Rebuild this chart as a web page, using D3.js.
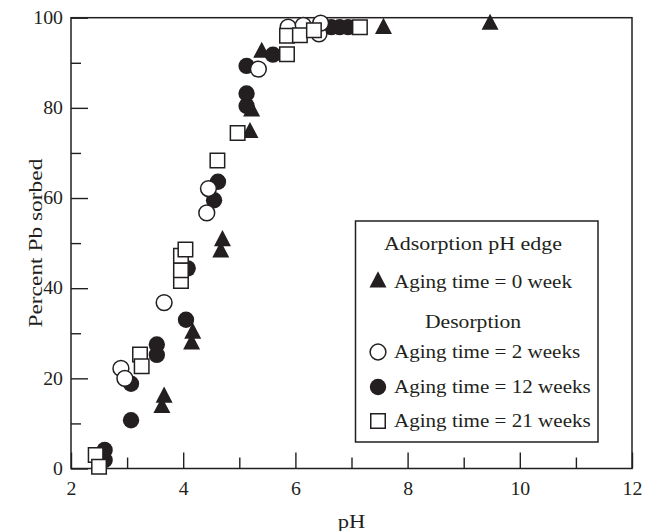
<!DOCTYPE html>
<html>
<head>
<meta charset="utf-8">
<script src="https://cdn.jsdelivr.net/npm/d3@7"></script>
<style>
  html, body { margin: 0; padding: 0; background: #fff; }
  svg { display: block; }
  text { font-family: "Liberation Serif", "DejaVu Serif", serif; fill: #231f20; }
</style>
</head>
<body>
<svg id="chart" width="646" height="531"></svg>
<script>
// Axis ticks
const xMajorTicks = [2, 4, 6, 8, 10, 12];
const xMinorTicks = [3, 5, 7, 9, 11];
const yMajorTicks = [0, 20, 40, 60, 80, 100];
const yMinorTicks = [10, 30, 50, 70, 90];

// Series: [pH, percent Pb sorbed]
const adsorption0wk = [
  [3.62, 13.5], [3.66, 15.8], [4.15, 27.6], [4.17, 30.0],
  [4.67, 48.0], [4.70, 50.5], [5.19, 74.5], [5.22, 79.3],
  [5.40, 92.3], [7.57, 97.6], [9.47, 98.5]
];
const desorption2wk = [
  [2.89, 22.2], [2.96, 20.0], [3.66, 36.8], [4.42, 56.7],
  [4.45, 62.1], [5.34, 88.6], [5.87, 97.9], [6.14, 98.3],
  [6.42, 96.4], [6.45, 98.8]
];
const desorption12wk = [
  [2.60, 1.9], [2.60, 4.1], [3.07, 10.7], [3.07, 18.8],
  [3.53, 25.2], [3.53, 27.5], [4.05, 33.0], [4.08, 44.4],
  [4.55, 59.5], [4.62, 63.6], [5.13, 80.4], [5.13, 83.2],
  [5.13, 89.3], [5.60, 91.8], [6.64, 97.9], [6.79, 97.9],
  [6.94, 97.9]
];
const desorption21wk = [
  [2.44, 3.0], [2.50, 0.4], [3.23, 25.3], [3.26, 22.7],
  [3.96, 41.6], [3.96, 44.0], [3.96, 47.2], [4.04, 48.6],
  [4.61, 68.3], [4.97, 74.4], [5.85, 91.9], [5.85, 96.0],
  [6.08, 96.1], [6.33, 97.2], [7.15, 97.9]
];

const legendTitleAds = "Adsorption pH edge";
const legendTitleDes = "Desorption";
const legendLabels = [
  "Aging time = 0 week",
  "Aging time = 2 weeks",
  "Aging time = 12 weeks",
  "Aging time = 21 weeks"
];

const ink = "#231f20";
const fontSize = "18px";
const svg = d3.select("#chart");

const x = d3.scaleLinear().domain([2, 12]).range([71, 632]);
const y = d3.scaleLinear().domain([0, 100]).range([468.5, 17.7]);

// Widen the serif face a little so it sets like a book typeface
function widen(sel, k) {
  sel.each(function () {
    const len = this.getComputedTextLength();
    if (len > 0) {
      d3.select(this)
        .attr("textLength", len * k)
        .attr("lengthAdjust", "spacingAndGlyphs");
    }
  });
}

// Triangle marker: slightly taller than equilateral, centred on its centroid
const tallTriangle = {
  draw(ctx, size) {
    const w = Math.sqrt(size) * 1.05;
    const h = w * 0.95;
    ctx.moveTo(0, -2 * h / 3);
    ctx.lineTo(w / 2, h / 3);
    ctx.lineTo(-w / 2, h / 3);
    ctx.closePath();
  }
};

const markers = {
  tri:    { type: tallTriangle,    size: 262, fill: ink,    stroke: "none" },
  open:   { type: d3.symbolCircle, size: 196, fill: "#fff", stroke: ink },
  filled: { type: d3.symbolCircle, size: 210, fill: ink,    stroke: "none" },
  square: { type: d3.symbolSquare, size: 210, fill: "#fff", stroke: ink }
};

function symbolPath(key) {
  const m = markers[key];
  return d3.symbol().type(m.type).size(m.size)();
}

// Axes: inward major and minor ticks
const axisG = svg.append("g");

function styleAxis(g) {
  g.select(".domain").remove();
  g.selectAll(".tick line").attr("stroke", ink).attr("stroke-width", 1.4);
  g.selectAll(".tick text")
    .style("font-family", '"Liberation Serif", "DejaVu Serif", serif')
    .style("font-size", fontSize)
    .attr("fill", ink)
    .call(widen, 1.1);
}

axisG.append("g")
  .attr("transform", `translate(0,${y(0)})`)
  .call(d3.axisBottom(x).tickValues(xMajorTicks).tickSize(-16).tickPadding(14).tickFormat(d3.format("d")))
  .call(styleAxis);
axisG.append("g")
  .attr("transform", `translate(0,${y(0)})`)
  .call(d3.axisBottom(x).tickValues(xMinorTicks).tickSize(-11).tickFormat(""))
  .call(styleAxis);
axisG.append("g")
  .attr("transform", `translate(${x(2)},0)`)
  .call(d3.axisLeft(y).tickValues(yMajorTicks).tickSize(-17).tickPadding(8).tickFormat(d3.format("d")))
  .call(styleAxis);
axisG.append("g")
  .attr("transform", `translate(${x(2)},0)`)
  .call(d3.axisLeft(y).tickValues(yMinorTicks).tickSize(-10).tickFormat(""))
  .call(styleAxis);

// Plot frame
svg.append("rect")
  .attr("x", x(2)).attr("y", y(100))
  .attr("width", x(12) - x(2)).attr("height", y(0) - y(100))
  .attr("fill", "none").attr("stroke", ink).attr("stroke-width", 1.5);

// Axis titles
svg.append("text")
  .attr("x", (x(2) + x(12)) / 2).attr("y", 528)
  .attr("text-anchor", "middle")
  .style("font-size", fontSize)
  .text("pH")
  .call(widen, 1.25);

svg.append("text")
  .attr("transform", `translate(42,${(y(0) + y(100)) / 2}) rotate(-90)`)
  .attr("text-anchor", "middle")
  .style("font-size", fontSize)
  .text("Percent Pb sorbed")
  .call(widen, 1.3);

// Data points
function drawSeries(data, key) {
  const m = markers[key];
  svg.append("g")
    .selectAll("path")
    .data(data)
    .join("path")
    .attr("transform", d => `translate(${x(d[0])},${y(d[1])})`)
    .attr("d", symbolPath(key))
    .attr("fill", m.fill)
    .attr("stroke", m.stroke)
    .attr("stroke-width", 1.5);
}

drawSeries(adsorption0wk, "tri");
drawSeries(desorption12wk, "filled");
drawSeries(desorption2wk, "open");
drawSeries(desorption21wk, "square");

// Legend
const lg = svg.append("g");
lg.append("rect")
  .attr("x", 355.5).attr("y", 221)
  .attr("width", 242.5).attr("height", 221)
  .attr("fill", "#fff").attr("stroke", ink).attr("stroke-width", 1.5);

lg.append("text").attr("x", 473).attr("y", 250)
  .attr("text-anchor", "middle").style("font-size", fontSize)
  .text(legendTitleAds)
  .call(widen, 1.22);
lg.append("text").attr("x", 473).attr("y", 328)
  .attr("text-anchor", "middle").style("font-size", fontSize)
  .text(legendTitleDes)
  .call(widen, 1.2);

const legendRows = [
  { key: "tri",    label: legendLabels[0], base: 288 },
  { key: "open",   label: legendLabels[1], base: 358 },
  { key: "filled", label: legendLabels[2], base: 393 },
  { key: "square", label: legendLabels[3], base: 427 }
];
legendRows.forEach(r => {
  const m = markers[r.key];
  lg.append("path")
    .attr("transform", `translate(378,${r.base - 6})`)
    .attr("d", symbolPath(r.key))
    .attr("fill", m.fill)
    .attr("stroke", m.stroke)
    .attr("stroke-width", 1.5);
  lg.append("text").attr("x", 394).attr("y", r.base)
    .style("font-size", fontSize)
    .text(r.label)
    .call(widen, 1.17);
});
</script>
</body>
</html>
